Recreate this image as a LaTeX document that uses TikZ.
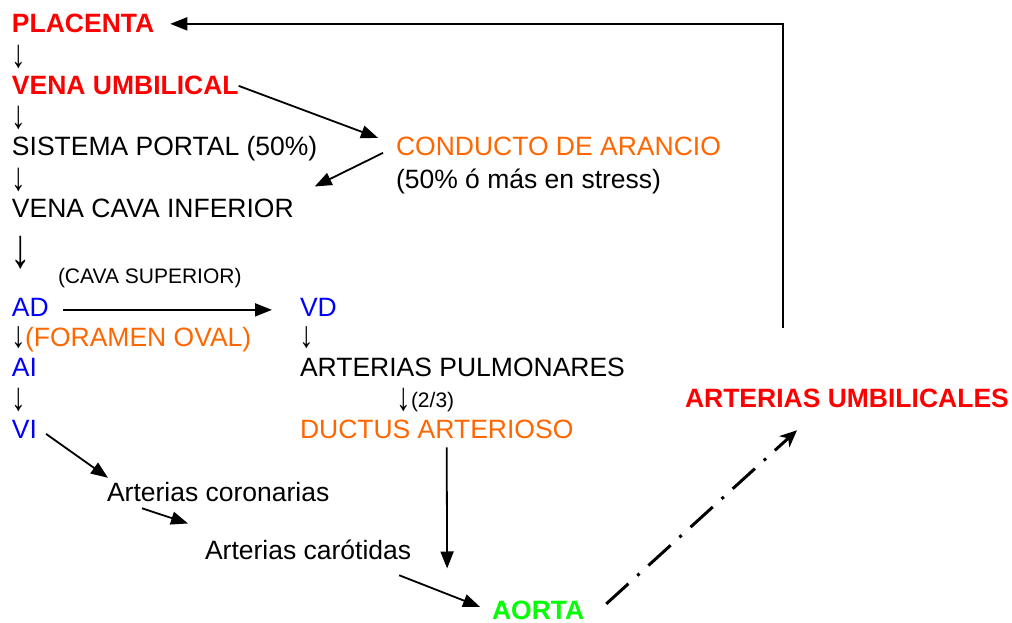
\documentclass[tikz,border=0pt]{standalone}
\usepackage{fontspec}
\usepackage{graphicx}
\setmainfont{Liberation Sans}
\usetikzlibrary{arrows.meta}
\definecolor{cred}{RGB}{255,0,0}
\definecolor{corange}{RGB}{255,102,0}
\definecolor{cblue}{RGB}{0,0,255}
\definecolor{cgreen}{RGB}{0,255,0}
\newcommand{\dnar}{\scalebox{1.1}[1.5]{↓}}
\newcommand{\dnarb}{\scalebox{1.1}[1.4]{↓}}
\newcommand{\bigdnar}{\scalebox{1.55}[2.1]{↓}}
\tikzset{
  txt/.style={inner sep=0pt, outer sep=0pt, anchor=base west, font=\fontsize{26.5}{30}\selectfont},
  sml/.style={txt, font=\fontsize{21}{24}\selectfont},
  bld/.style={txt, font=\fontsize{26.5}{30}\selectfont\bfseries},
  arr/.style={line width=1.8pt, -{Triangle[length=17pt,width=13pt]}},
  dashdot/.style={line width=3pt, -{Stealth[length=17pt,width=15pt,inset=5pt]},
    dash pattern=on 30pt off 12pt on 3pt off 12pt}
}
\begin{document}
\begin{tikzpicture}[x=1pt,y=-1pt]
\useasboundingbox (0,0) rectangle (1012,623);
% left column
\node[bld, text=cred] (pl) at (12,33) {PLACENTA};
\node[txt] (d1) at (11,68) {\dnar};
\node[bld, text=cred] (vu) at (12,95) {VENA UMBILICAL};
\node[txt] (d2) at (11,129) {\dnar};
\node[txt] (sp) at (12,156) {SISTEMA PORTAL (50\%)};
\node[txt] (d3) at (11,190) {\dnar};
\node[txt] (vci) at (12,217) {VENA CAVA INFERIOR};
\node[txt] (d4) at (10,267) {\bigdnar};
\node[sml] (cs) at (58,283) {(CAVA SUPERIOR)};
\node[txt, text=cblue] (ad) at (12,316) {AD};
\node[txt] (d5) at (11,347) {\dnarb};
\node[txt, text=corange] (fo) at (25,346) {(FORAMEN OVAL)};
\node[txt, text=cblue] (ai) at (12,376) {AI};
\node[txt] (d6) at (11,410) {\dnar};
\node[txt, text=cblue] (vi) at (12,438) {VI};
% right side
\node[txt, text=corange] (ar) at (396,156) {CONDUCTO DE ARANCIO};
\node[txt] (ar2) at (396,188) {(50\% ó más en stress)};
\node[txt, text=cblue] (vd) at (300,316) {VD};
\node[txt] (d7) at (299,347) {\dnarb};
\node[txt] (ap) at (300,376) {ARTERIAS PULMONARES};
\node[txt] (d8) at (396,410) {\dnar};
\node[sml] (p23) at (411,407) {(2/3)};
\node[txt, text=corange] (da) at (300,438) {DUCTUS ARTERIOSO};
\node[bld, text=cred] (ua) at (685,407) {ARTERIAS UMBILICALES};
\node[txt] (ac) at (107,501) {Arterias coronarias};
\node[txt] (cr) at (205,559) {Arterias carótidas};
\node[bld, text=cgreen] (ao) at (492,619) {AORTA};
% connectors
\draw[arr] ([shift={(-64,-60)}]ua.north) |- ([xshift=16pt]pl.east);
\draw[arr] (vu.east) -- ([shift={(-18,-9)}]ar.west);
\draw[arr] ([shift={(-13,6)}]ar.west) -- ([shift={(21,-12)}]vci.north east);
\draw[arr] ([shift={(14,3)}]ad.east) -- ([shift={(-28,3)}]vd.west);
\draw[arr] ([shift={(9,5)}]vi.east) -- ([shift={(1,-4)}]ac.north west);
\draw[arr] ([shift={(35,7)}]ac.south west) -- ([shift={(-17,-16)}]cr.north west);
\draw[arr] ([shift={(-12,16)}]cr.south east) -- ([shift={(-12,-3)}]ao.west);
\draw[arr] ([shift={(10,9)}]da.south) -- ([shift={(-91,-32)}]ao.north);
\draw[dashdot] ([shift={(22,-6)}]ao.east) -- ([shift={(112,23)}]ua.south west);
\end{tikzpicture}
\end{document}
